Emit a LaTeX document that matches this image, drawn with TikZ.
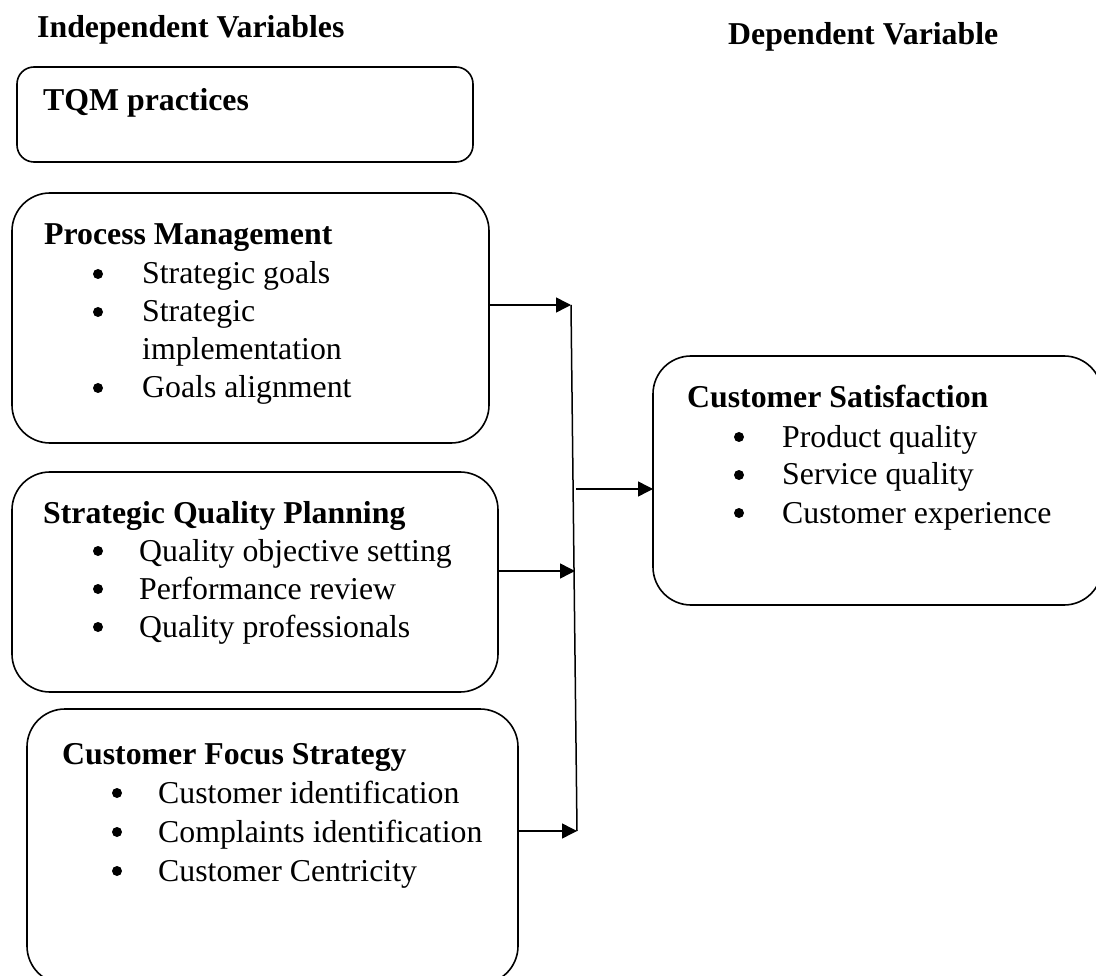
\documentclass[tikz,border=0pt]{standalone}
\usepackage{fontspec}
\setmainfont{Liberation Serif}
\usetikzlibrary{arrows.meta}
\begin{document}
\begin{tikzpicture}[x=1pt,y=-1pt,
  box/.style={draw, line width=1.6pt, rounded corners=#1, inner sep=0pt, outer sep=0pt, anchor=north west},
  box/.default=38pt,
  txt/.style={anchor=base west, inner sep=0pt, font=\fontsize{31.8}{38}\selectfont},
  head/.style={anchor=base west, inner sep=0pt, font=\fontsize{31.8}{38}\selectfont\bfseries},
  bul/.style={circle, fill, inner sep=0pt, minimum size=10pt, yshift=10pt},
  conn/.style={line width=1.5pt},
  arr/.style={conn, -{Triangle[length=15pt,width=15pt]}}]

\clip (0,0) rectangle (1096,976);

% column titles
\node[head] (ivh) at (37,38) {Independent Variables};
\node[head] (dvh) at (728,45) {Dependent Variable};

% frames
\node[box=17pt, minimum width=456pt, minimum height=95pt] (tqm) at (17,67) {};
\node[box, minimum width=477pt, minimum height=250pt] (pm) at (12,193) {};
\node[box, minimum width=486pt, minimum height=220pt] (sqp) at (12,472) {};
\node[box, minimum width=491pt, minimum height=275pt] (cfs) at (27,709) {};
\node[box, minimum width=449pt, minimum height=249pt] (cs) at (653,356) {};

% TQM practices
\node[head] (tqmh) at (43,111) {TQM practices};

% Process Management
\node[head] (pmh) at (44,245) {Process Management};
\foreach \y/\n in {284/1,322/2,398/3} \node[bul] (pmb\n) at (98,\y) {};
\node[txt] (pmt1) at (142,284) {Strategic goals};
\node[txt] (pmt2) at (142,322) {Strategic};
\node[txt] (pmt2b) at (142,360) {implementation};
\node[txt] (pmt3) at (142,398) {Goals alignment};

% Strategic Quality Planning
\node[head] (sqph) at (43,523) {Strategic Quality Planning};
\foreach \y/\n in {561/1,599/2,637/3} \node[bul] (sqpb\n) at (98,\y) {};
\node[txt] (sqpt1) at (139,561) {Quality objective setting};
\node[txt] (sqpt2) at (139,599) {Performance review};
\node[txt] (sqpt3) at (139,637) {Quality professionals};

% Customer Focus Strategy
\node[head] (cfsh) at (62,764) {Customer Focus Strategy};
\foreach \y/\n in {803/1,842/2,881/3} \node[bul] (cfsb\n) at (117,\y) {};
\node[txt] (cfst1) at (158,803) {Customer identification};
\node[txt] (cfst2) at (158,842) {Complaints identification};
\node[txt] (cfst3) at (158,881) {Customer Centricity};

% Customer Satisfaction
\node[head] (csh) at (687,408) {Customer Satisfaction};
\foreach \y/\n in {447/1,485/2,523/3} \node[bul] (csb\n) at (739,\y) {};
\node[txt] (cst1) at (782,447) {Product quality};
\node[txt] (cst2) at (782,485) {Service quality};
\node[txt] (cst3) at (782,523) {Customer experience};

% collecting line
\coordinate (b1) at (571,305);
\coordinate (b2) at (575,571);
\coordinate (b3) at (577,831);
\coordinate (bm) at (576,489);
\draw[conn] (b1) -- (b3);

\draw[arr] (pm.east |- b1) -- (b1);
\draw[arr] (sqp.east |- b2) -- (b2);
\draw[arr] (cfs.east |- b3) -- (b3);
\draw[arr] (bm) -- (cs.west |- bm);
\end{tikzpicture}
\end{document}
